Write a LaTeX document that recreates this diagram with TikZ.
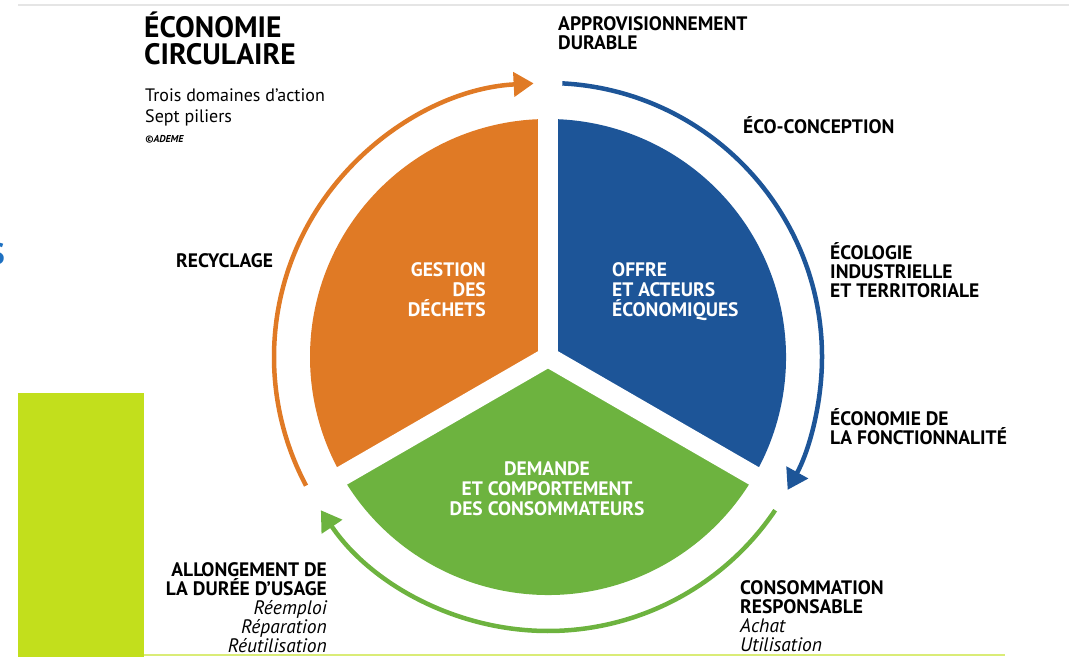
\documentclass[tikz,border=0pt]{standalone}
\usepackage{fontspec}
\setmainfont{PT Sans}
\usetikzlibrary{arrows.meta}
\definecolor{wasteorange}{HTML}{E07A25}
\definecolor{offerblue}{HTML}{1D5598}
\definecolor{demandgreen}{HTML}{6DB33F}
\definecolor{limebar}{HTML}{C2DF1C}
\definecolor{cutblue}{HTML}{1E70C1}
\tikzset{
  pillar/.style={font=\bfseries\fontsize{19.5}{19}\selectfont, inner sep=0pt},
  areatext/.style={text=white, font=\bfseries\fontsize{19.5}{20}\selectfont, inner sep=0pt},
  ring/.style={line width=4.5pt, -{Triangle[length=20pt,width=24pt]}},
}
\begin{document}
\begin{tikzpicture}[x=1pt, y=1pt]
  \useasboundingbox (0,0) rectangle (1069,657);
  \clip (0,0) rectangle (1069,657);
  \coordinate (c) at (548,300);
  % page bits
  \draw[gray!20, line width=1.5pt] (18,652) -- (1069,652);
  \fill[limebar] (18,0) rectangle (144,264);
  \draw[limebar!60, line width=2pt] (144,2) -- (1005,2);
  \node[text=cutblue, font=\bfseries\fontsize{30}{30}\selectfont, anchor=east, inner sep=0pt] (cut) at (5,403) {S};
  % title
  \node[font=\bfseries\fontsize{29.5}{27}\selectfont, align=left, anchor=base west, inner sep=0pt]
    (title) at (144,592) {ÉCONOMIE\\CIRCULAIRE};
  \node[font=\fontsize{18}{21}\selectfont, align=left, anchor=base west, inner sep=0pt]
    (subtitle) at (145,534) {Trois domaines d’action\\Sept piliers};
  \node[font=\bfseries\itshape\fontsize{10}{10}\selectfont, anchor=base west, inner sep=0pt]
    (credit) at (145,514) {©ADEME};
  % three domains
  \fill[wasteorange] (c) -- ++(90:238) arc[start angle=90, end angle=210, radius=238pt] -- cycle;
  \fill[offerblue] (c) -- ++(-30:238) arc[start angle=-30, end angle=90, radius=238pt] -- cycle;
  \fill[demandgreen] (c) -- ++(210:238) arc[start angle=210, end angle=330, radius=238pt] -- cycle;
  \foreach \a in {90,210,330}
    \draw[white, line width=20pt] (c) -- ++(\a:245);
  \node[areatext, align=right, anchor=base east] (waste) at (486,340) {GESTION\\DES\\DÉCHETS};
  \node[areatext, align=left, anchor=base west] (offer) at (612,340) {OFFRE\\ET ACTEURS\\ÉCONOMIQUES};
  \node[areatext, align=center, anchor=base] (demand) at (547,142) {DEMANDE\\ET COMPORTEMENT\\DES CONSOMMATEURS};
  % cycle arrows
  \draw[ring, wasteorange] (c) ++(208:274) arc[start angle=208, end angle=93, radius=274pt];
  \draw[ring, offerblue] (c) ++(87:274) arc[start angle=87, end angle=-29, radius=274pt];
  \draw[ring, demandgreen] (c) ++(-34:274) arc[start angle=-34, end angle=-146, radius=274pt];
  % seven pillars
  \node[pillar, align=left, anchor=base west] (supply) at (558,607) {APPROVISIONNEMENT\\DURABLE};
  \node[pillar, anchor=base west] (design) at (743,523) {ÉCO-CONCEPTION};
  \node[pillar, align=left, anchor=base west] (ecology) at (830,359) {ÉCOLOGIE\\INDUSTRIELLE\\ET TERRITORIALE};
  \node[pillar, align=left, anchor=base west] (function) at (830,213) {ÉCONOMIE DE\\LA FONCTIONNALITÉ};
  \node[pillar, align=left, anchor=base west] (consume) at (740,6)
    {CONSOMMATION\\RESPONSABLE\\{\mdseries\itshape Achat}\\{\mdseries\itshape Utilisation}};
  \node[pillar, align=right, anchor=base east] (extend) at (327,5)
    {ALLONGEMENT DE\\LA DURÉE D’USAGE\\{\mdseries\itshape Réemploi}\\{\mdseries\itshape Réparation}\\{\mdseries\itshape Réutilisation}};
  \node[pillar, anchor=base west] (recycle) at (176,389) {RECYCLAGE};
\end{tikzpicture}
\end{document}
